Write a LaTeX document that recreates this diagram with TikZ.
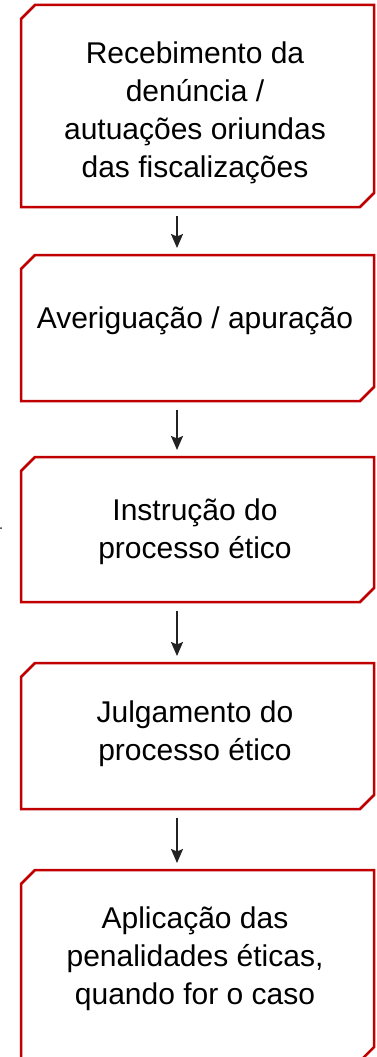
\documentclass[tikz,border=0pt]{standalone}
\usepackage{fontspec}
\setmainfont{Liberation Sans}
\usetikzlibrary{arrows.meta}

\definecolor{vermelho}{RGB}{192,0,0}
\definecolor{cinza}{RGB}{34,34,34}

\tikzset{
  caixa/.style={rectangle, minimum width=353pt, inner sep=0pt, outer sep=0pt},
  borda/.style={draw=vermelho, line width=2.5pt, line join=miter},
  texto/.style={align=center, font=\fontsize{30}{38}\selectfont},
  flecha/.style={-{Stealth[length=14pt,width=12pt,inset=2.5pt]}, line width=1.8pt, cinza,
    shorten <=9pt, shorten >=7pt}
}

\begin{document}
\begin{tikzpicture}[x=1pt,y=-1pt]
\useasboundingbox (0,0) rectangle (376,1057);
\clip (0,0) rectangle (376,1057);

% caixas
\node[caixa, minimum height=202pt] (recebimento) at (197.5,106) {};
\node[caixa, minimum height=146pt] (averiguacao) at (197.5,328) {};
\node[caixa, minimum height=145pt] (instrucao) at (197.5,529.5) {};
\node[caixa, minimum height=146pt] (julgamento) at (197.5,736) {};
\node[caixa, minimum height=191pt] (aplicacao) at (197.5,965.5) {};

% cantos cortados
\foreach \c in {recebimento,averiguacao,instrucao,julgamento,aplicacao}
  \draw[borda] ([yshift=-14pt]\c.north west) -- ([xshift=14pt]\c.north west)
    -- (\c.north east) -- ([yshift=14pt]\c.south east)
    -- ([xshift=-14pt]\c.south east) -- (\c.south west) -- cycle;

% textos
\node[texto] (t1) at (195,113) {Recebimento da\\denúncia /\\autuações oriundas\\das fiscalizações};
\node[texto] (t2) at (195,321) {Averiguação / apuração};
\node[texto] (t3) at (195,532) {Instrução do\\processo ético};
\node[texto] (t4) at (195,734) {Julgamento do\\processo ético};
\node[texto] (t5) at (195,959) {Aplicação das\\penalidades éticas,\\quando for o caso};

% setas
\draw[flecha] ([xshift=-20.5pt]recebimento.south) -- ([xshift=-20.5pt]averiguacao.north);
\draw[flecha] ([xshift=-20.5pt]averiguacao.south) -- ([xshift=-20.5pt]instrucao.north);
\draw[flecha] ([xshift=-20.5pt]instrucao.south) -- ([xshift=-20.5pt]julgamento.north);
\draw[flecha] ([xshift=-20.5pt]julgamento.south) -- ([xshift=-20.5pt]aplicacao.north);

\fill[cinza] (1,528) circle (1pt);
\end{tikzpicture}
\end{document}
